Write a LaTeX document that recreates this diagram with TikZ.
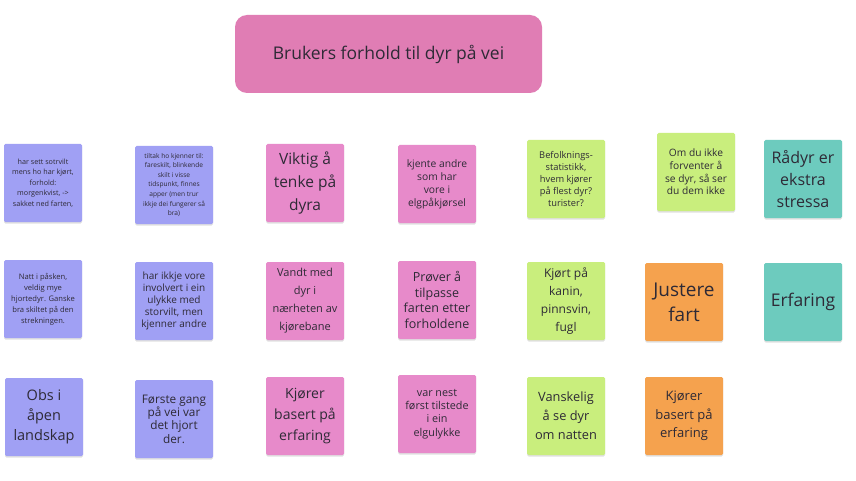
\documentclass[tikz,border=0pt]{standalone}
\usepackage{fontspec}
\setmainfont{Open Sans}
\definecolor{txt}{HTML}{2E2A36}
\definecolor{titlepink}{HTML}{E07DB4}
\definecolor{nblue}{HTML}{A0A0F4}
\definecolor{npink}{HTML}{E78ACA}
\definecolor{ngreen}{HTML}{C9EE7D}
\definecolor{norange}{HTML}{F5A24E}
\definecolor{nteal}{HTML}{6DCBBE}
\newcommand{\fs}[2]{\fontsize{#1}{#2}\selectfont}
\tikzset{
  note/.style={minimum width=78pt, minimum height=78pt, inner sep=1pt, align=center,
    rounded corners=1.5pt, text=txt,
    preaction={fill=black, opacity=0.12, transform canvas={yshift=-1.5pt}}},
  bluenote/.style={note, fill=nblue},
  pinknote/.style={note, fill=npink},
  greennote/.style={note, fill=ngreen},
  orangenote/.style={note, fill=norange},
  tealnote/.style={note, fill=nteal},
}
\begin{document}
\begin{tikzpicture}[x=1pt,y=-1pt]
\useasboundingbox[fill=white] (0,0) rectangle (856,481);
% title
\node[fill=titlepink, rounded corners=12pt, minimum width=307pt, minimum height=78pt,
  text=txt, font=\fs{17.5}{21}] (title) at (388.5,54) {Brukers forhold til dyr på vei};
% row 1
\node[bluenote, font=\fs{7.2}{10.4}] (r1c1) at (43,183)
  {har sett sotrvilt\\mens ho har kjørt,\\forhold:\\morgenkvist, ->\\sakket ned farten,};
\node[bluenote, font=\fs{6.6}{9.6}] (r1c2) at (174,185)
  {tiltak ho kjenner til:\\fareskilt, blinkende\\skilt i visse\\tidspunkt, finnes\\apper (men trur\\ikkje dei fungerer så\\bra)};
\node[pinknote, font=\fs{15.5}{23}] (r1c3) at (305,183)
  {Viktig å\\tenke på\\dyra};
\node[pinknote, font=\fs{10.3}{13}] (r1c4) at (437,184)
  {kjente andre\\som har\\vore i\\elgpåkjørsel};
\node[greennote, font=\fs{9.3}{12}] (r1c5) at (566,179)
  {Befolknings-\\statistikk,\\hvem kjører\\på flest dyr?\\turister?};
\node[greennote, font=\fs{10.2}{12.7}] (r1c6) at (696,172)
  {Om du ikke\\forventer å\\se dyr, så ser\\du dem ikke};
\node[tealnote, font=\fs{16}{22}] (r1c7) at (803,179)
  {Rådyr er\\ekstra\\stressa};
% row 2
\node[bluenote, font=\fs{7.6}{11}] (r2c1) at (43,299)
  {Natt i påsken,\\veldig mye\\hjortedyr. Ganske\\bra skiltet på den\\strekningen.};
\node[bluenote, font=\fs{10}{12}] (r2c2) at (174,301)
  {har ikkje vore\\involvert i ein\\ulykke med\\storvilt, men\\kjenner andre};
\node[pinknote, font=\fs{11}{18}] (r2c3) at (305,301)
  {Vandt med\\dyr i\\nærheten av\\kjørebane};
\node[pinknote, font=\fs{12.5}{15.5}] (r2c4) at (437,300)
  {Prøver å\\tilpasse\\farten etter\\forholdene};
\node[greennote, font=\fs{12}{18}] (r2c5) at (566,301)
  {Kjørt på\\kanin,\\pinnsvin,\\fugl};
\node[orangenote, font=\fs{19}{25}] (r2c6) at (684,302)
  {Justere\\fart};
\node[tealnote, font=\fs{17.5}{21}] (r2c7) at (803,302)
  {Erfaring};
% row 3
\node[bluenote, font=\fs{14.5}{20}] (r3c1) at (44,417)
  {Obs i\\åpen\\landskap};
\node[bluenote, font=\fs{11.8}{13.3}] (r3c2) at (174,419)
  {Første gang\\på vei var\\det hjort\\der.};
\node[pinknote, font=\fs{14}{21}] (r3c3) at (305,416)
  {Kjører\\basert på\\erfaring};
\node[pinknote, font=\fs{10.8}{13.3}] (r3c4) at (437,414)
  {var nest\\først tilstede\\i ein\\elgulykke};
\node[greennote, font=\fs{12.8}{19}] (r3c5) at (566,416)
  {Vanskelig\\å se dyr\\om natten};
\node[orangenote, font=\fs{13}{18.3}] (r3c6) at (684,416)
  {Kjører\\basert på\\erfaring};
\end{tikzpicture}
\end{document}
